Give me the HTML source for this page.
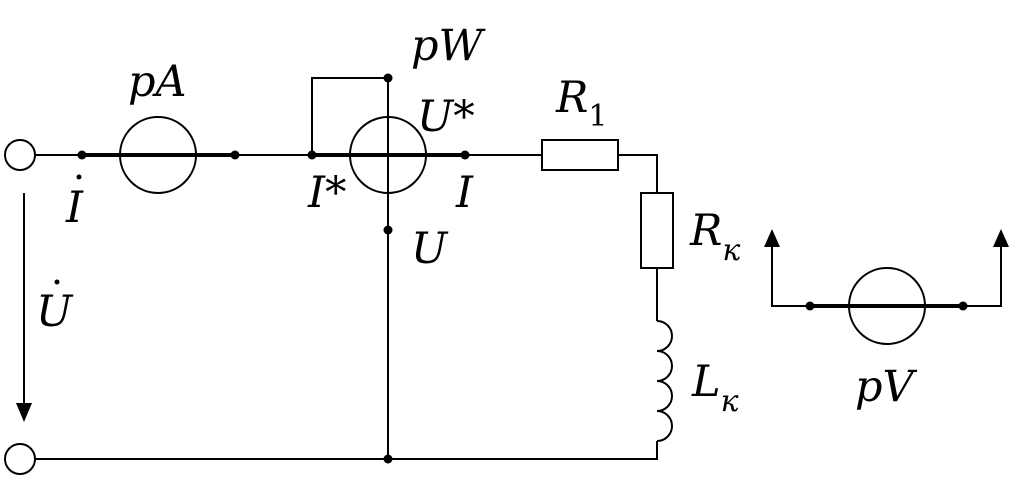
<!DOCTYPE html>
<html><head><style>
html,body{margin:0;padding:0;background:#fff;}
svg text{font-family:"DejaVu Serif","Liberation Serif",serif;font-style:italic;fill:#000;}
</style></head><body>
<svg width="1024" height="478" viewBox="0 0 1024 478" xmlns="http://www.w3.org/2000/svg">
<g stroke="#000" fill="none" stroke-width="2">
<circle cx="20" cy="155" r="15"/>
<circle cx="20" cy="459" r="15"/>
<line x1="35" y1="155" x2="82" y2="155"/>
<line x1="235" y1="155" x2="312" y2="155"/>
<line x1="465" y1="155" x2="543" y2="155"/>
<rect x="542" y="140" width="76" height="30"/>
<polyline points="618,155 657,155 657,193"/>
<rect x="641" y="193" width="32" height="75"/>
<line x1="657" y1="268" x2="657" y2="321"/>
<path d="M657,321 a15,15 0 0 1 0,30 a15,15 0 0 1 0,30 a15,15 0 0 1 0,30 a15,15 0 0 1 0,30"/>
<polyline points="657,441 657,459 35,459"/>
<polyline points="312,155 312,78 388,78"/>
<line x1="388" y1="78" x2="388" y2="459"/>
<circle cx="158" cy="155" r="38"/>
<circle cx="388" cy="155" r="38"/>
<line x1="24" y1="193" x2="24" y2="405"/>
<polyline points="772,245 772,306 1001,306 1001,245"/>
<circle cx="887" cy="306" r="38"/>
</g>
<g stroke="#000" stroke-width="4">
<line x1="82" y1="155" x2="235" y2="155"/>
<line x1="312" y1="155" x2="465" y2="155"/>
<line x1="810" y1="306" x2="963" y2="306"/>
</g>
<g fill="#000">
<polygon points="16,403 32,403 24,422"/>
<polygon points="764,247 780,247 772,229"/>
<polygon points="993,247 1009,247 1001,229"/>
<circle cx="82" cy="155" r="4.5"/><circle cx="235" cy="155" r="4.5"/>
<circle cx="312" cy="155" r="4.5"/><circle cx="465" cy="155" r="4.5"/>
<circle cx="388" cy="78" r="4.5"/><circle cx="388" cy="230" r="4.5"/>
<circle cx="388" cy="459" r="4.5"/>
<circle cx="810" cy="306" r="4.5"/><circle cx="963" cy="306" r="4.5"/>
<circle cx="79" cy="177" r="2.5"/><circle cx="57" cy="282" r="2.5"/>
</g>
<g font-size="43">
<text x="128" y="96">pA</text>
<text x="411" y="60">pW</text>
<text x="417" y="131">U*</text>
<text x="308" y="207">I*</text>
<text x="456" y="207">I</text>
<text x="411" y="263">U</text>
<text x="66" y="222">I</text>
<text x="36" y="326">U</text>
<text x="556" y="112">R<tspan font-size="30" font-style="normal" dy="14">1</tspan></text>
<text x="690" y="245">R<tspan font-size="30" dy="15">к</tspan></text>
<text x="692" y="396">L<tspan font-size="30" dy="15">к</tspan></text>
<text x="855" y="401">pV</text>
</g>
</svg>
</body></html>
